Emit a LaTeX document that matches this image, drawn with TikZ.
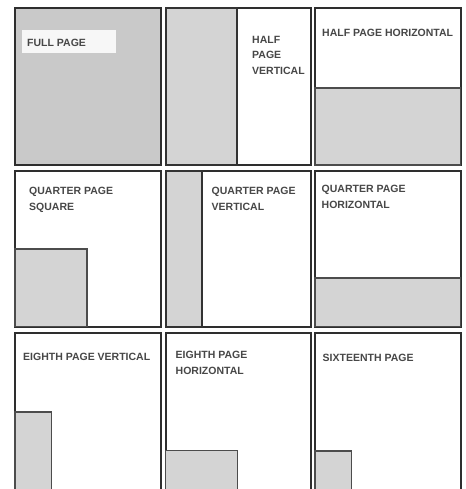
\documentclass[tikz,border=0pt]{standalone}
\usepackage{fontspec}
\setmainfont{Liberation Sans}
\begin{document}
\begin{tikzpicture}[x=1pt,y=-1pt,
  frame/.style={draw=black!82,line width=2pt,fill=white},
  adbox/.style={draw=black!70,line width=1.4pt,fill=black!17},
  fullbox/.style={draw=black!82,line width=2pt,fill=black!21},
  lbl/.style={anchor=base west,inner sep=0pt,text=black!72,font=\fontsize{10.5}{15.5}\selectfont\bfseries,align=left},
  tagbox/.style={draw=none,fill=black!3}]
\useasboundingbox (0,0) rectangle (465,489);
\clip (0,0) rectangle (465,489);
% row 1
\draw[fullbox] (15,8.5) rectangle (161,165);
\fill[tagbox] (22,30) rectangle (116,53);
\node[lbl] (t1) at (27,46.5) {FULL PAGE};

\draw[frame] (165.5,8.5) rectangle (310.5,165);
\draw[adbox,line width=2pt,draw=black!80] (165.5,8.5) rectangle (237,165);
\node[lbl] (t2) at (252,74.5) {HALF\\PAGE\\VERTICAL};

\draw[frame] (315,8.5) rectangle (460.5,165);
\draw[adbox] (315,88) rectangle (460.5,165);
\node[lbl] (t3) at (322,37) {HALF PAGE HORIZONTAL};

% row 2
\draw[frame] (15,171) rectangle (161,326.5);
\draw[adbox] (15,249) rectangle (87,326.5);
\node[lbl] (t4) at (29,210) {QUARTER PAGE\\SQUARE};

\draw[frame] (165.5,171) rectangle (310.5,326.5);
\draw[adbox,line width=2pt,draw=black!80] (165.5,171) rectangle (201.5,326.5);
\node[lbl] (t5) at (211.5,210) {QUARTER PAGE\\VERTICAL};

\draw[frame] (315,171) rectangle (460.5,326.5);
\draw[adbox] (315,278) rectangle (460.5,326.5);
\node[lbl] (t6) at (321.5,208) {QUARTER PAGE\\HORIZONTAL};

% row 3
\draw[frame] (15,333) rectangle (161,495);
\draw[adbox] (15,412) rectangle (51.5,495);
\node[lbl] (t7) at (23,360) {EIGHTH PAGE VERTICAL};

\draw[frame] (165.5,333) rectangle (310.5,495);
\draw[adbox] (165.5,450.5) rectangle (237.5,495);
\node[lbl] (t8) at (175.5,374) {EIGHTH PAGE\\HORIZONTAL};

\draw[frame] (315,333) rectangle (460.5,495);
\draw[adbox] (315,451) rectangle (351.5,495);
\node[lbl] (t9) at (322.5,361) {SIXTEENTH PAGE};
\end{tikzpicture}
\end{document}
